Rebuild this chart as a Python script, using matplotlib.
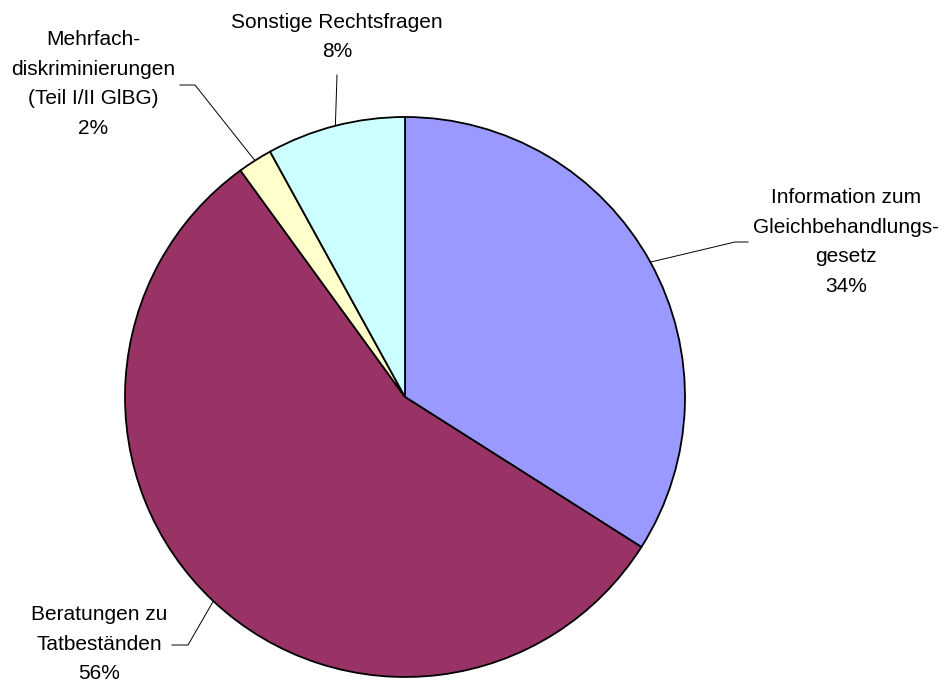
import numpy as np
import matplotlib.pyplot as plt

plt.rcParams['font.family'] = ['Liberation Sans', 'DejaVu Sans']

labels = ['Information zum\nGleichbehandlungs-\ngesetz',
          'Beratungen zu\nTatbeständen',
          'Mehrfach-\ndiskriminierungen\n(Teil I/II GlBG)',
          'Sonstige Rechtsfragen']
values = [34, 56, 2, 8]
colors = ['#9999FF', '#993366', '#FFFFCC', '#CCFFFF']

W, H = 949, 685
cx, cy, r = 405, 397, 280

# label centres and leader elbows in pixel coords (y from top)
text_pos = [(846, 242), (99, 644), (93, 84), (337, 37)]
elbows = [[(735, 242), (748, 242)],
          [(188, 645), (172, 645)],
          [(195, 85), (180, 85)],
          [(337, 75)]]

fig = plt.figure(figsize=(W / 100, H / 100), dpi=100)
ax = fig.add_axes([0, 0, 1, 1])

wedges, _ = ax.pie(values, colors=colors, startangle=90, counterclock=False,
                   center=(cx, H - cy), radius=r,
                   wedgeprops=dict(edgecolor='black', linewidth=1.3))

for w, lab, val, tp, el in zip(wedges, labels, values, text_pos, elbows):
    mid = np.deg2rad((w.theta1 + w.theta2) / 2)
    ex = cx + r * np.cos(mid)
    ey = H - cy + r * np.sin(mid)
    xs = [ex] + [p[0] for p in el]
    ys = [ey] + [H - p[1] for p in el]
    ax.plot(xs, ys, color='black', lw=0.7)
    ax.text(tp[0], H - tp[1], '%s\n%d%%' % (lab, val), ha='center', va='center',
            fontsize=15, linespacing=1.7, color='black')

ax.set_xlim(0, W)
ax.set_ylim(0, H)
ax.set_aspect('equal')
ax.axis('off')

fig.savefig('out.png', dpi=100, facecolor='white')
